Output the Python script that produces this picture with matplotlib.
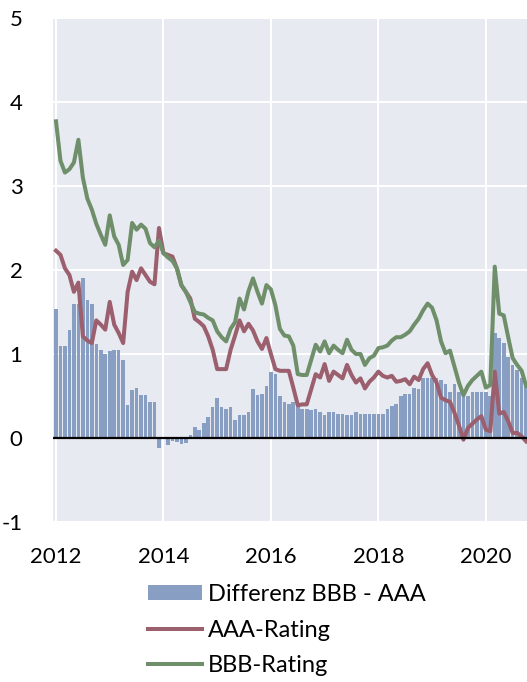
import matplotlib
matplotlib.use("Agg")
import matplotlib.pyplot as plt
import numpy as np

plt.rcParams['font.family'] = ['Lato', 'DejaVu Sans']
plt.rcParams['axes.unicode_minus'] = False

# monthly values, Jan 2012 .. Oct 2020
bbb = [3.77, 3.30, 3.16, 3.20, 3.28, 3.55, 3.10, 2.85, 2.72, 2.55, 2.42, 2.30,
       2.65, 2.40, 2.30, 2.06, 2.12, 2.56, 2.48, 2.54, 2.49, 2.32, 2.27, 2.35,
       2.20, 2.15, 2.11, 2.02, 1.82, 1.74, 1.62, 1.50, 1.48, 1.47, 1.43, 1.40,
       1.27, 1.20, 1.15, 1.30, 1.38, 1.66, 1.53, 1.75, 1.90, 1.74, 1.60, 1.82,
       1.77, 1.58, 1.30, 1.22, 1.21, 1.10, 0.76, 0.75, 0.75, 0.93, 1.11, 1.03,
       1.15, 1.01, 1.10, 1.05, 1.01, 1.17, 1.05, 1.00, 1.00, 0.87, 0.95, 0.98,
       1.07, 1.08, 1.10, 1.16, 1.20, 1.20, 1.23, 1.27, 1.35, 1.42, 1.52, 1.60,
       1.55, 1.40, 1.15, 1.01, 1.04, 0.85, 0.66, 0.51, 0.62, 0.69, 0.74, 0.79,
       0.60, 0.63, 2.04, 1.48, 1.46, 1.20, 0.95, 0.87, 0.80, 0.62]
aaa = [2.23, 2.18, 2.02, 1.94, 1.74, 1.85, 1.21, 1.16, 1.13, 1.40, 1.35, 1.29,
       1.62, 1.35, 1.25, 1.13, 1.74, 1.98, 1.88, 2.02, 1.94, 1.86, 1.83, 2.50,
       2.20, 2.18, 2.16, 2.02, 1.82, 1.74, 1.66, 1.42, 1.38, 1.33, 1.21, 1.05,
       0.82, 0.82, 0.82, 1.05, 1.22, 1.40, 1.27, 1.36, 1.28, 1.15, 1.06, 1.19,
       1.00, 0.82, 0.80, 0.80, 0.80, 0.60, 0.39, 0.40, 0.40, 0.58, 0.76, 0.72,
       0.88, 0.68, 0.79, 0.75, 0.71, 0.87, 0.75, 0.66, 0.71, 0.59, 0.67, 0.72,
       0.79, 0.74, 0.72, 0.74, 0.67, 0.68, 0.70, 0.64, 0.73, 0.69, 0.82, 0.89,
       0.75, 0.66, 0.48, 0.45, 0.43, 0.30, 0.15, -0.02, 0.12, 0.17, 0.22, 0.26,
       0.10, 0.08, 0.79, 0.29, 0.31, 0.20, 0.06, 0.06, 0.02, -0.04]
diff = [1.54, 1.10, 1.10, 1.29, 1.60, 1.60, 1.90, 1.64, 1.60, 1.12, 1.05, 1.00,
        1.03, 1.05, 1.05, 0.93, 0.39, 0.57, 0.60, 0.51, 0.51, 0.43, 0.43, -0.12,
        -0.01, -0.08, -0.04, -0.05, -0.07, -0.06, 0.04, 0.13, 0.10, 0.18, 0.25, 0.37,
        0.48, 0.37, 0.34, 0.37, 0.22, 0.27, 0.27, 0.31, 0.58, 0.51, 0.52, 0.62,
        0.79, 0.76, 0.50, 0.43, 0.40, 0.43, 0.38, 0.34, 0.34, 0.33, 0.34, 0.31,
        0.27, 0.31, 0.31, 0.29, 0.29, 0.27, 0.27, 0.31, 0.29, 0.29, 0.29, 0.29,
        0.29, 0.29, 0.34, 0.38, 0.41, 0.50, 0.52, 0.52, 0.60, 0.58, 0.71, 0.71,
        0.71, 0.71, 0.69, 0.64, 0.55, 0.64, 0.55, 0.50, 0.50, 0.55, 0.55, 0.55,
        0.55, 0.50, 1.25, 1.19, 1.13, 0.97, 0.87, 0.81, 0.71, 0.65]
years = ['2012', '2014', '2016', '2018', '2020']

months = np.arange(len(bbb))

fig = plt.figure(figsize=(5.27, 6.82), dpi=100)
ax = fig.add_axes([53/527, 1 - 522/682, 1 - 53/527, (522 - 18)/682])
ax.set_facecolor('#E8EAF1')

bars = ax.bar(months, diff, width=0.8, color='#889EC2', linewidth=0, zorder=2)
l1, = ax.plot(months, aaa, color='#9B5F6E', lw=2.9, zorder=3)
l2, = ax.plot(months, bbb, color='#6F8F6B', lw=2.9, zorder=3)
ax.axhline(0, color='black', lw=1.6, zorder=4)

ax.set_ylim(-1, 5)
ax.set_xlim(-0.67, 105.2)
ax.set_yticks(range(-1, 6))
ax.set_xticks(np.arange(len(years)) * 24)
ax.set_xticklabels(years)
ax.grid(True, color='white', lw=1.5, zorder=0)
ax.set_axisbelow(True)
for s in ax.spines.values():
    s.set_visible(False)
ax.tick_params(length=0, labelsize=16)
ax.tick_params(axis='y', pad=22)
ax.tick_params(axis='x', pad=18)

fig.legend([bars, l1, l2], ['Differenz BBB - AAA', 'AAA-Rating', 'BBB-Rating'],
           loc='upper left', bbox_to_anchor=(148/527, 1 - 584/682), frameon=False,
           fontsize=17, handlelength=2.3, handleheight=0.6, handletextpad=0.25,
           labelspacing=0.62, borderpad=0, borderaxespad=0)

fig.savefig('out.png', dpi=100)
